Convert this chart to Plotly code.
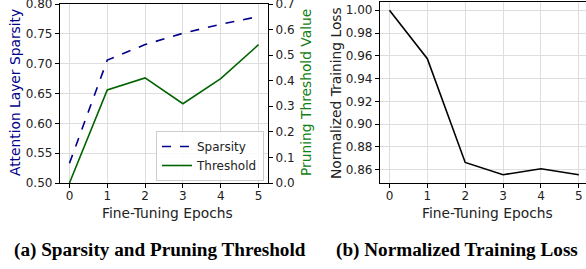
import plotly.graph_objects as go

epochs = [0, 1, 2, 3, 4, 5]
sparsity = [0.533, 0.706, 0.732, 0.751, 0.766, 0.779]
threshold = [0.0, 0.364, 0.411, 0.310, 0.408, 0.541]
loss = [1.000, 0.9575, 0.8664, 0.8556, 0.8609, 0.8556]

left_ticks = [0.50, 0.55, 0.60, 0.65, 0.70, 0.75, 0.80]
right_ticks = [0.0, 0.1, 0.2, 0.3, 0.4, 0.5, 0.6, 0.7]
loss_ticks = [0.86, 0.88, 0.90, 0.92, 0.94, 0.96, 0.98, 1.00]

W, H = 586, 269
BLUE = "#00008B"
GREEN_LINE = "#006400"
GREEN_TEXT = "#118011"
FONT = "DejaVu Sans"
GRID = "#dedede"
TITLE_SIZE = 13.8

def px(x):
    return x / W

def py(y):
    return 1 - y / H

fig = go.Figure()
fig.add_trace(go.Scatter(x=epochs, y=sparsity, mode="lines", name="Sparsity",
                         line=dict(color=BLUE, width=1.6, dash="dash"),
                         xaxis="x", yaxis="y"))
fig.add_trace(go.Scatter(x=epochs, y=threshold, mode="lines", name="Threshold",
                         line=dict(color=GREEN_LINE, width=1.6),
                         xaxis="x", yaxis="y2"))
fig.add_trace(go.Scatter(x=epochs, y=loss, mode="lines", name="Loss",
                         line=dict(color="black", width=1.6),
                         xaxis="x3", yaxis="y3", showlegend=False))

axis_common = dict(showline=True, linecolor="black", linewidth=1.3,
                   ticks="outside", ticklen=4, tickwidth=1.1, tickcolor="black",
                   tickfont=dict(family=FONT, size=12, color="#222"),
                   zeroline=False, ticklabeloverflow="allow", automargin=False)

ydom = [py(183), py(4)]
fig.update_layout(
    width=W, height=H,
    margin=dict(l=0, r=0, t=0, b=0),
    paper_bgcolor="white", plot_bgcolor="white",
    xaxis=dict(domain=[px(60), px(268)], range=[-0.25, 5.25],
               tickvals=epochs, showgrid=True, gridcolor=GRID, gridwidth=0.8,
               mirror=True, anchor="y", ticklabelstandoff=-3, **axis_common),
    yaxis=dict(domain=ydom, range=[0.5, 0.8], tickvals=left_ticks,
               tickformat=".2f", showgrid=True, gridcolor=GRID, gridwidth=0.8,
               anchor="x", **axis_common),
    yaxis2=dict(domain=ydom, range=[0.0, 0.7], tickvals=right_ticks,
                tickformat=".1f", overlaying="y", side="right", anchor="x",
                showgrid=False, **axis_common),
    xaxis3=dict(domain=[px(380), 1.0], range=[-0.25, 5.19],
                tickvals=epochs, showgrid=True, gridcolor=GRID, gridwidth=0.8,
                mirror=True, anchor="y3", ticklabelstandoff=-3, **axis_common),
    yaxis3=dict(domain=[py(183), py(2)], range=[0.8484, 1.0072],
                tickvals=loss_ticks, tickformat=".2f", showgrid=True,
                gridcolor=GRID, gridwidth=0.8, mirror=True, anchor="x3",
                **axis_common),
    legend=dict(x=px(264), y=py(181), xanchor="right", yanchor="bottom",
                bgcolor="rgba(255,255,255,0.85)", bordercolor="#cccccc",
                borderwidth=1, font=dict(family=FONT, size=12, color="#222"),
                tracegroupgap=0, itemwidth=30),
    showlegend=True,
)

def label(text, x, y, color="#222", size=TITLE_SIZE, angle=0, family=FONT):
    return dict(text=text, x=px(x), y=py(y), xref="paper", yref="paper",
                xanchor="center", yanchor="middle", textangle=angle,
                showarrow=False, font=dict(family=family, size=size, color=color))

ann = [
    label("Attention Layer Sparsity", 15, 93, color=BLUE, angle=-90),
    label("Pruning Threshold Value", 306, 93, color=GREEN_TEXT, angle=-90),
    label("Normalized Training Loss", 336, 93, angle=-90),
    label("Fine-Tuning Epochs", 167, 213),
    label("Fine-Tuning Epochs", 487, 213),
    label("<b>(a) Sparsity and Pruning Threshold</b>", 160, 250, color="black",
          size=19.2, family="Liberation Serif"),
    label("<b>(b) Normalized Training Loss</b>", 457, 250, color="black",
          size=19.2, family="Liberation Serif"),
]
fig.update_layout(annotations=ann)

fig.write_html("out.html", config={"displayModeBar": False},
               post_script="document.body.style.margin='0';document.body.style.overflow='hidden';")
